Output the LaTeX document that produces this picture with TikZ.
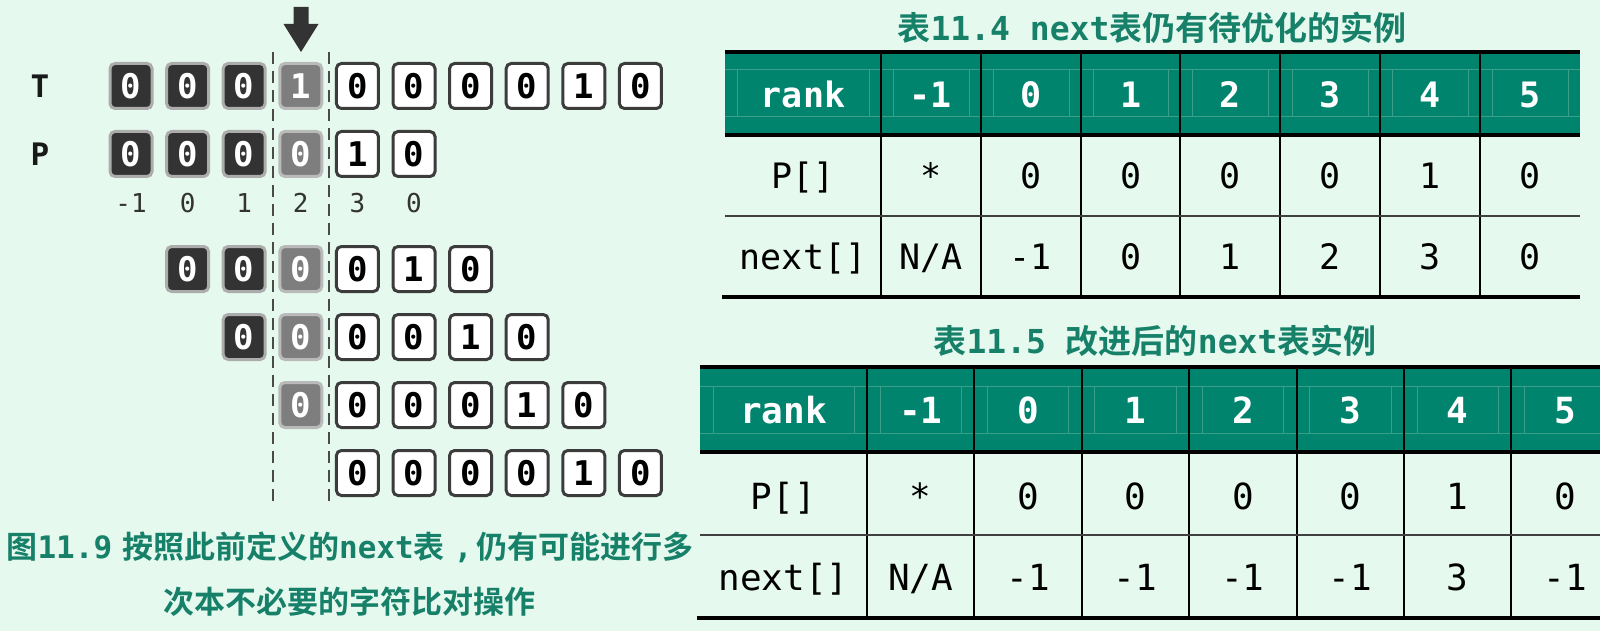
\documentclass[tikz,border=0pt]{standalone}
\usepackage{fontspec}
\newfontfamily\mono{DejaVu Sans Mono}
\newfontfamily\cjkb{Noto Sans CJK SC Bold}
\definecolor{bg}{HTML}{E6F9EF}
\definecolor{tealhead}{HTML}{00846E}
\definecolor{captxt}{HTML}{178069}
\definecolor{faintc}{HTML}{3A9E88}
\definecolor{darkcell}{HTML}{333333}
\definecolor{darkglow}{HTML}{ACACAC}
\definecolor{graycell}{HTML}{7E7E7E}
\definecolor{grayglow}{HTML}{BABABA}
\definecolor{cellborder}{HTML}{3C3C3C}
\definecolor{arrowc}{HTML}{333333}
\definecolor{dashc}{HTML}{4A4A4A}
\newcommand\CJ[1]{{\cjkb #1}}
\newcommand\MB[1]{{\mono\bfseries #1}}
\tikzset{
  cellbase/.style={rounded corners=5pt, minimum width=42pt, minimum height=45pt, inner sep=0pt,
    line width=3pt, font=\mono\bfseries\fontsize{34}{34}\selectfont, text height=24.8pt, text depth=0pt},
  wcell/.style={cellbase, fill=white, draw=cellborder, text=black},
  dcell/.style={cellbase, fill=darkcell, draw=darkglow, text=white},
  gcell/.style={cellbase, fill=graycell, draw=grayglow, text=white},
  idx/.style={inner sep=0pt, font=\mono\fontsize{26}{26}\selectfont, text=black!80, text height=19pt, text depth=0pt},
  rowlab/.style={inner sep=0pt, font=\mono\bfseries\fontsize{31}{31}\selectfont, text=black!90, text height=22.6pt, text depth=0pt},
  dashline/.style={draw=dashc, line width=2pt, dash pattern=on 12pt off 7pt},
  captext/.style={inner sep=0pt, text=captxt, font=\fontsize{31}{31}\selectfont, text height=24.8pt, text depth=0pt},
  titletext/.style={inner sep=0pt, text=captxt, font=\fontsize{33}{33}\selectfont, text height=26.4pt, text depth=0pt},
  hA/.style={inner sep=0pt, text=white, font=\mono\bfseries\fontsize{35}{35}\selectfont, text height=25.5pt, text depth=0pt},
  bA/.style={inner sep=0pt, text=black, font=\mono\fontsize{35}{35}\selectfont, text height=25.5pt, text depth=0pt},
  hB/.style={inner sep=0pt, text=white, font=\mono\bfseries\fontsize{36}{36}\selectfont, text height=26.2pt, text depth=0pt},
  bB/.style={inner sep=0pt, text=black, font=\mono\fontsize{36}{36}\selectfont, text height=26.2pt, text depth=0pt},
  thickrule/.style={draw=black, line width=3.5pt},
  rowrule/.style={draw=black!75, line width=2pt},
  colrule/.style={draw=black, line width=2pt},
  faint/.style={draw=faintc, line width=1pt},
}
\newcommand\cellrow[4]{%
  \foreach \st/\dg [count=\k from #3] in {#4} {\node[\st] (#1\k) at ({131+56.6*\k},#2) {\dg};}}
\begin{document}
\begin{tikzpicture}[x=1pt,y=-1pt]
\useasboundingbox (0,0) rectangle (1600,631);
\fill[bg] (0,0) rectangle (1600,631);

% ---------- left: matching diagram ----------
\draw[dashline] (272.5,52) -- (272.5,507);
\draw[dashline] (329,52) -- (329,507);
\fill[arrowc] (293.5,7) -- (308.5,7) -- (308.5,24) -- (318.5,24) -- (301,52) -- (283.5,24) -- (293.5,24) -- cycle;

\node[rowlab] (lt) at (40,86) {T};
\node[rowlab] (lp) at (40,154) {P};

\cellrow{t}{86}{0}{dcell/0,dcell/0,dcell/0,gcell/1,wcell/0,wcell/0,wcell/0,wcell/0,wcell/1,wcell/0}
\cellrow{p}{154}{0}{dcell/0,dcell/0,dcell/0,gcell/0,wcell/1,wcell/0}
\cellrow{a}{269}{1}{dcell/0,dcell/0,gcell/0,wcell/0,wcell/1,wcell/0}
\cellrow{b}{337}{2}{dcell/0,gcell/0,wcell/0,wcell/0,wcell/1,wcell/0}
\cellrow{c}{405}{3}{gcell/0,wcell/0,wcell/0,wcell/0,wcell/1,wcell/0}
\cellrow{e}{473}{4}{wcell/0,wcell/0,wcell/0,wcell/0,wcell/1,wcell/0}

\foreach \lb [count=\k from 0] in {-1,0,1,2,3,0}
  \node[idx] (i\k) at ({131+56.6*\k},203) {\lb};

\node[captext] (cap1) at (350,546) {\CJ{图}\MB{11.9}\hspace{10pt}\CJ{按照此前定义的}\MB{next}\CJ{表}\hspace{9pt}\MB{,}\hspace{4pt}\CJ{仍有可能进行多}};
\node[captext] (cap2) at (349,601) {\CJ{次本不必要的字符比对操作}};

% ---------- table 11.4 ----------
\node[titletext] (title1) at (1152,27) {\CJ{表}\MB{11.4 next}\CJ{表仍有待优化的实例}};
\fill[tealhead] (725,52) rectangle (1580,135);
\draw[faint] (725,70) -- (1580,70);
\draw[faint] (725,117) -- (1580,117);
\foreach \a/\b in {725/881,881/981,981/1081,1081/1180,1180/1280,1280/1380,1380/1480,1480/1580}{
  \draw[faint] (\a+12,70) -- (\a+12,117);
  \draw[faint] (\b-12,70) -- (\b-12,117);
}
\foreach \x in {881,981,1081,1180,1280,1380,1480}
  \draw[colrule] (\x,52) -- (\x,297);
\draw[rowrule] (725,216) -- (1580,216);
\draw[thickrule] (725,52) -- (1580,52);
\draw[thickrule] (725,135) -- (1580,135);
\draw[thickrule] (722,297) -- (1580,297);
\foreach \t [count=\k from 0] in {rank,-1,0,1,2,3,4,5}{
  \pgfmathsetmacro\xx{\k==0 ? 803 : 881+99.86*(\k-0.5)}
  \node[hA] (ha\k) at (\xx,95) {\t};}
\foreach \t [count=\k from 0] in {{P[]},*,0,0,0,0,1,0}{
  \pgfmathsetmacro\xx{\k==0 ? 803 : 881+99.86*(\k-0.5)}
  \node[bA] (pa\k) at (\xx,176) {\t};}
\foreach \t [count=\k from 0] in {{next[]},{N/A},-1,0,1,2,3,0}{
  \pgfmathsetmacro\xx{\k==0 ? 803 : 881+99.86*(\k-0.5)}
  \node[bA] (na\k) at (\xx,257) {\t};}

% ---------- table 11.5 ----------
\node[titletext] (title2) at (1155,340) {\CJ{表}\MB{11.5 }\CJ{改进后的}\MB{next}\CJ{表实例}};
\fill[tealhead] (700,367) rectangle (1600,452);
\draw[faint] (700,386) -- (1600,386);
\draw[faint] (700,433) -- (1600,433);
\foreach \a/\b in {700/867,867/974.4,974.4/1081.8,1081.8/1189.2,1189.2/1296.6,1296.6/1404,1404/1511.4,1511.4/1618.8}{
  \draw[faint] (\a+13,386) -- (\a+13,433);
  \draw[faint] (\b-13,386) -- (\b-13,433);
}
\foreach \x in {867,974.4,1081.8,1189.2,1296.6,1404,1511.4}
  \draw[colrule] (\x,367) -- (\x,618);
\draw[rowrule] (700,535) -- (1600,535);
\draw[thickrule] (700,367) -- (1600,367);
\draw[thickrule] (700,452) -- (1600,452);
\draw[thickrule] (697,618) -- (1600,618);
\foreach \t [count=\k from 0] in {rank,-1,0,1,2,3,4,5}{
  \pgfmathsetmacro\xx{\k==0 ? 783.5 : 867+107.4*(\k-0.5)}
  \node[hB] (hb\k) at (\xx,410) {\t};}
\foreach \t [count=\k from 0] in {{P[]},*,0,0,0,0,1,0}{
  \pgfmathsetmacro\xx{\k==0 ? 783.5 : 867+107.4*(\k-0.5)}
  \node[bB] (pb\k) at (\xx,496) {\t};}
\foreach \t [count=\k from 0] in {{next[]},{N/A},-1,-1,-1,-1,3,-1}{
  \pgfmathsetmacro\xx{\k==0 ? 783.5 : 867+107.4*(\k-0.5)}
  \node[bB] (nb\k) at (\xx,577) {\t};}
\end{tikzpicture}
\end{document}
